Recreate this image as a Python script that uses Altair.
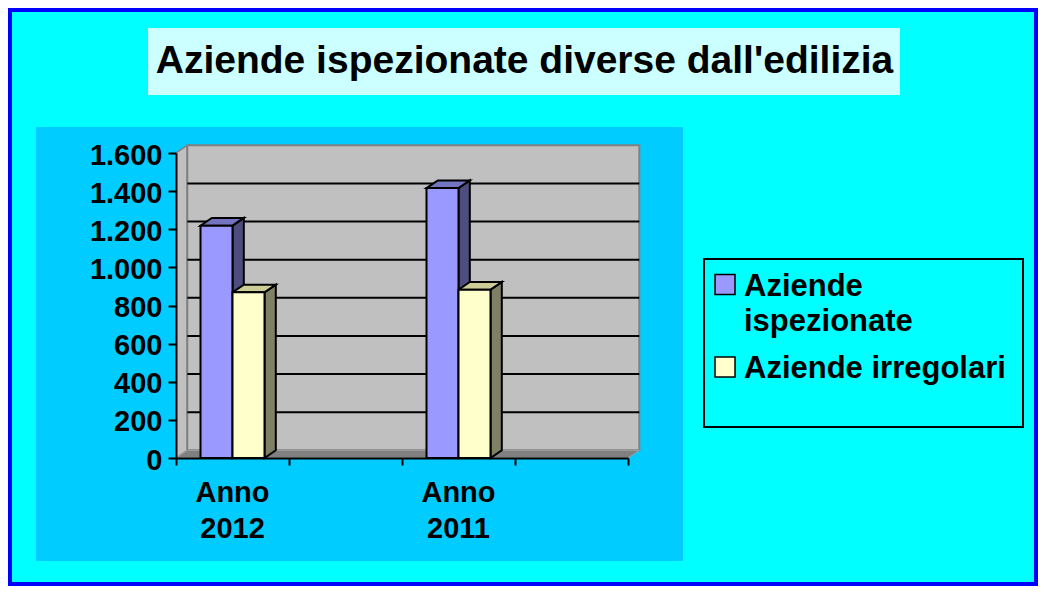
import textwrap
import altair as alt
import pandas as pd

# ---------------- data ----------------
categories = ["Anno 2012", "", "Anno 2011", ""]
aziende_ispezionate = [1219, None, 1416, None]
aziende_irregolari = [869, None, 883, None]
series_names = ["Aziende ispezionate", "Aziende irregolari"]
y_ticks = [0, 200, 400, 600, 800, 1000, 1200, 1400, 1600]
title_text = "Aziende ispezionate diverse dall'edilizia"

series_values = [aziende_ispezionate, aziende_irregolari]

# ---------------- style ----------------
FONT = "Liberation Sans"
front_colors = ["#9999FF", "#FFFFCC"]
side_colors = ["#4D4D80", "#808066"]
top_colors = ["#7373BF", "#CCCC99"]
OUTER_BG = "#00FFFF"
PANEL_BG = "#00CCFF"
TITLE_BG = "#CCFFFF"
WALL = "#C0C0C0"
WALL_EDGE = "#808080"

W, H = 452, 305
PAD_L, PAD_T = 168, 145
SVG_W, SVG_H = 1030, 578
OX, OY = PAD_L + 8, PAD_T + 8   # plot origin in page pixels


def px(ax):
    return ax - OX


def py(ay):
    return ay - OY


n_cat = len(categories)
y_max = y_ticks[-1]
unit_x = W / n_cat
unit_y = H / y_max
BW = 32.0 / unit_x            # bar width (category units)
DX = 11.3 / unit_x            # 3D depth, x
DY = 7.7 / unit_y             # 3D depth, y

xs = alt.Scale(domain=[0, n_cat], nice=False, zero=False)
ys = alt.Scale(domain=[0, y_max], nice=False, zero=False)
x_axis = alt.Axis(values=list(range(n_cat + 1)), labels=False, title=None, grid=False,
                  domainColor="black", domainWidth=2, tickColor="black", tickWidth=2,
                  tickSize=7, zindex=1)
y_axis = alt.Axis(values=y_ticks, title=None, grid=False,
                  labelExpr="replace(format(datum.value, ','), ',', '.')",
                  labelFont=FONT, labelFontSize=29, labelFontWeight="bold", labelColor="black",
                  labelPadding=6, labelOffset=2,
                  domainColor="black", domainWidth=2, tickColor="black", tickWidth=2,
                  tickSize=8, zindex=1)


def X(f):
    return alt.X(f, type="quantitative", scale=xs, axis=x_axis)


def Y(f):
    return alt.Y(f, type="quantitative", scale=ys, axis=y_axis)


one = pd.DataFrame({"k": [0]})


def box(x1, y1, x2, y2, **kw):
    return alt.Chart(one).mark_rect(**kw).encode(
        x=alt.value(px(x1)), x2=alt.value(px(x2)),
        y=alt.value(py(y1)), y2=alt.value(py(y2)))


def face(df, fill, stroke, sw, grouped=True):
    enc = dict(x=X("x"), y=Y("y"), y2=alt.Y2("y2"))
    if grouped:
        enc["detail"] = "bar:N"
    return alt.Chart(df).mark_area(fill=fill, stroke=stroke, strokeWidth=sw,
                                   interpolate="linear", opacity=1).encode(**enc)


layers = []

# panel + title box
layers.append(box(36, 127, 683, 561, fill=PANEL_BG))
layers.append(box(148, 28, 900, 95, fill=TITLE_BG))
layers.append(alt.Chart(one).mark_text(
    text=title_text, font=FONT, fontSize=39, fontWeight="bold", color="black",
    align="center", baseline="alphabetic").encode(
    x=alt.value(px(524.5)), y=alt.value(py(72.5))))

# 3D walls (points listed left to right)
left_wall = pd.DataFrame({"x": [0, DX], "y": [0, DY], "y2": [y_max, y_max + DY]})
layers.append(face(left_wall, WALL, WALL_EDGE, 1.5, grouped=False))
back_wall = pd.DataFrame({"x": [DX], "x2": [n_cat + DX], "y": [DY], "y2": [y_max + DY]})
layers.append(alt.Chart(back_wall).mark_rect(fill=WALL, stroke=WALL_EDGE, strokeWidth=2).encode(
    x=X("x"), x2="x2", y=Y("y"), y2="y2"))
grid = pd.DataFrame({"x": DX, "x2": n_cat + DX, "y": [v + DY for v in y_ticks[1:-1]]})
layers.append(alt.Chart(grid).mark_rule(color="black", strokeWidth=2).encode(
    x=X("x"), x2="x2", y=Y("y")))
floor = pd.DataFrame({"x": [0, DX, n_cat, n_cat + DX], "y": [0, 0, 0, DY],
                      "y2": [0, DY, DY, DY]})
layers.append(face(floor, WALL_EDGE, "#A0A0A0", 1, grouped=False))

# 3D bars
sides, tops, fronts = [], [], []
for s, (name, vals) in enumerate(zip(series_names, series_values)):
    srows, trows, frows = [], [], []
    for i, (cat, v) in enumerate(zip(categories, vals)):
        if v is None:
            continue
        xl = i + 0.5 - BW + s * BW
        xr = xl + BW
        bid = f"{s}-{i}"
        frows.append({"serie": name, "cat": cat, "x": xl, "x2": xr, "y": 0, "y2": v})
        srows += [{"bar": bid, "x": xr, "y": v, "y2": 0},
                  {"bar": bid, "x": xr + DX, "y": v + DY, "y2": DY}]
        trows += [{"bar": bid, "x": xl, "y": v, "y2": v},
                  {"bar": bid, "x": xl + DX, "y": v, "y2": v + DY},
                  {"bar": bid, "x": xr, "y": v, "y2": v + DY},
                  {"bar": bid, "x": xr + DX, "y": v + DY, "y2": v + DY}]
    sides.append(face(pd.DataFrame(srows), side_colors[s], "black", 2))
    tops.append(face(pd.DataFrame(trows), top_colors[s], "black", 2))
    fronts.append(alt.Chart(pd.DataFrame(frows)).mark_rect(
        fill=front_colors[s], stroke="black", strokeWidth=2).encode(
        x=X("x"), x2="x2", y=Y("y"), y2="y2",
        tooltip=["serie:N", "cat:N", "y2:Q"]))
layers += sides + tops + fronts

# category labels
lab = pd.DataFrame({"cat": [c for c in categories if c],
                    "xc": [i + 0.5 for i, c in enumerate(categories) if c]})
layers.append(alt.Chart(lab).mark_text(
    font=FONT, fontSize=29, fontWeight="bold", color="black", align="center",
    baseline="alphabetic", lineBreak=" ", lineHeight=36).encode(
    x=X("xc"), y=alt.value(py(502)), text="cat:N"))

# legend
layers.append(box(704, 259, 1023, 427, fill=OUTER_BG, stroke="black", strokeWidth=2))
row_top = 274.5
for s, name in enumerate(series_names):
    lines = textwrap.wrap(name, 18)
    layers.append(box(715, row_top, 735, row_top + 20, fill=front_colors[s],
                      stroke="black", strokeWidth=1.5))
    layers.append(alt.Chart(one).mark_text(
        text=lines, font=FONT, fontSize=31, fontWeight="bold", color="black",
        align="left", baseline="alphabetic", lineHeight=35).encode(
        x=alt.value(px(744)), y=alt.value(py(row_top + 21))))
    row_top += 35 * len(lines) + 12.5

# outer border
layers.append(box(10, 10, 1036, 584, fillOpacity=0, stroke="#0000FF", strokeWidth=4))

chart = alt.layer(*layers).properties(
    width=W, height=H,
    padding={"left": PAD_L, "top": PAD_T, "right": SVG_W - PAD_L - W, "bottom": SVG_H - PAD_T - H},
    autosize=alt.AutoSizeParams(type="none"),
    background=OUTER_BG,
).configure_view(stroke="transparent")

chart.save("out.html", embed_options={"renderer": "svg", "actions": False})
